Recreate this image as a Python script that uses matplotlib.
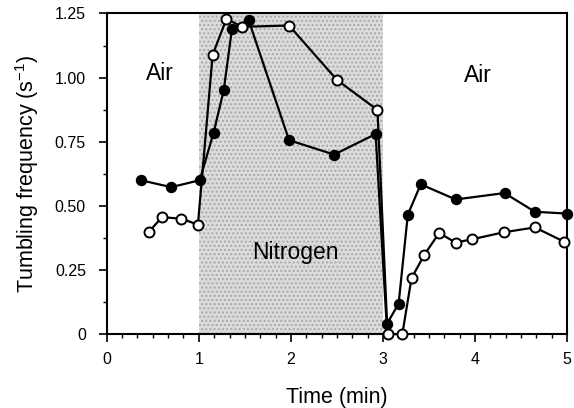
import matplotlib
matplotlib.use("Agg")
import matplotlib.pyplot as plt
from matplotlib.ticker import MultipleLocator, FixedLocator

plt.rcParams['font.family'] = ['Liberation Sans', 'DejaVu Sans']
plt.rcParams['mathtext.default'] = 'regular'

# Filled circles series
t_filled = [0.37, 0.70, 1.01, 1.16, 1.27, 1.36, 1.54, 1.98, 2.47, 2.92,
            3.04, 3.17, 3.27, 3.41, 3.79, 4.32, 4.65, 5.00]
f_filled = [0.60, 0.573, 0.60, 0.785, 0.95, 1.19, 1.225, 0.756, 0.70, 0.78,
            0.038, 0.119, 0.466, 0.584, 0.525, 0.55, 0.477, 0.47]

# Open circles series
t_open = [0.46, 0.60, 0.81, 0.99, 1.15, 1.30, 1.47, 1.98, 2.50, 2.94,
          3.05, 3.21, 3.31, 3.45, 3.61, 3.79, 3.97, 4.31, 4.65, 4.97]
f_open = [0.40, 0.456, 0.45, 0.427, 1.089, 1.229, 1.198, 1.203, 0.991, 0.874,
          0.0, 0.0, 0.218, 0.31, 0.394, 0.357, 0.37, 0.397, 0.416, 0.36]

nitrogen_span = (1.0, 3.0)
x_ticks = [0, 1, 2, 3, 4, 5]
y_ticks = [0, 0.25, 0.50, 0.75, 1.00, 1.25]
y_ticklabels = ['0', '0.25', '0.50', '0.75', '1.00', '1.25']

fig = plt.figure(figsize=(5.74, 4.08), dpi=100)
ax = fig.add_axes([0.186, 0.181, 0.802, 0.786])

ax.axvspan(*nitrogen_span, facecolor='#dcdcdc', edgecolor='#a8a8a8',
           hatch='....', linewidth=0, zorder=0)

ax.plot(t_filled, f_filled, '-o', color='black', lw=1.6, ms=7.2,
        mfc='black', mec='black', clip_on=False, zorder=3)
ax.plot(t_open, f_open, '-o', color='black', lw=1.6, ms=7.2,
        mfc='white', mec='black', mew=1.4, clip_on=False, zorder=4)

ax.set_xlim(0, 5)
ax.set_ylim(0, 1.25)
ax.xaxis.set_major_locator(FixedLocator(x_ticks))
ax.xaxis.set_minor_locator(MultipleLocator(1/6))
ax.yaxis.set_major_locator(FixedLocator(y_ticks))
ax.yaxis.set_minor_locator(MultipleLocator(0.125))
ax.set_yticklabels(y_ticklabels)
ax.tick_params(which='major', direction='out', length=6, width=1.2,
               labelsize=11.5)
ax.tick_params(axis='y', which='major', pad=9)
ax.tick_params(axis='x', which='major', pad=7)
ax.tick_params(which='minor', direction='out', length=3, width=1.0)
ax.tick_params(axis='x', top=False)
ax.tick_params(axis='y', right=False)
for s in ax.spines.values():
    s.set_linewidth(1.5)

ax.set_xlabel('Time (min)', fontsize=15.5, labelpad=14)
ax.set_ylabel('Tumbling frequency (s$^{-1}$)', fontsize=15.5, labelpad=10)

ax.text(0.58, 1.015, 'Air', fontsize=16.5, ha='center', va='center')
ax.text(4.03, 1.01, 'Air', fontsize=16.5, ha='center', va='center')
ax.text(2.05, 0.32, 'Nitrogen', fontsize=16.5, ha='center', va='center')

fig.savefig('out.png', dpi=100)
